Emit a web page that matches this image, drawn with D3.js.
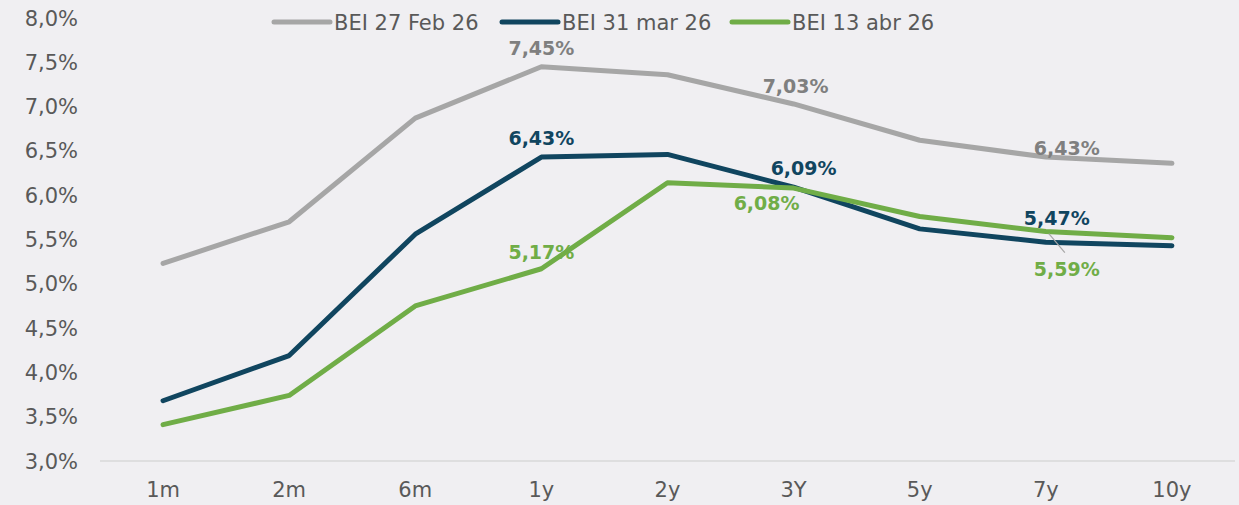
<!DOCTYPE html>
<html>
<head>
<meta charset="utf-8">
<script src="https://cdn.jsdelivr.net/npm/d3@7"></script>
<style>
  html, body { margin: 0; padding: 0; background: #f0eff2; }
  svg { display: block; }
  text { font-family: "DejaVu Sans", sans-serif; }
</style>
</head>
<body>
<svg id="chart" width="1239" height="505"></svg>
<script>
// tenors
var tenors = ["1m", "2m", "6m", "1y", "2y", "3Y", "5y", "7y", "10y"];
var yTicks = [3.0, 3.5, 4.0, 4.5, 5.0, 5.5, 6.0, 6.5, 7.0, 7.5, 8.0];

var seriesNames = ["BEI 27 Feb 26", "BEI 31 mar 26", "BEI 13 abr 26"];
var feb27 = [5.23, 5.70, 6.87, 7.45, 7.36, 7.03, 6.62, 6.43, 6.36];
var mar31 = [3.68, 4.19, 5.56, 6.43, 6.46, 6.09, 5.62, 5.47, 5.43];
var abr13 = [3.41, 3.74, 4.75, 5.17, 6.14, 6.08, 5.76, 5.59, 5.52];

// which points get a value label: [series index, tenor index]
var labelled = [[0, 3], [0, 5], [0, 7], [1, 3], [1, 5], [1, 7], [2, 3], [2, 5], [2, 7]];

var colors = ["#a6a6a6", "#10455f", "#70ad47"];
var labelColors = ["#7f7f7f", "#10455f", "#70ad47"];
// label offsets from the point (dx, dy) in px
var labelOffsets = {
  "0,3": [0, -12], "0,5": [2, -11], "0,7": [21, -2],
  "1,3": [0, -12], "1,5": [10, -12], "1,7": [11, -17],
  "2,3": [0, -10], "2,5": [-27, 22], "2,7": [21, 44]
};

var all = [feb27, mar31, abr13];

var svg = d3.select("#chart");
var mLeft = 100, mRight = 1235, mTop = 18, mBottom = 461;

var x = d3.scaleBand().domain(tenors).range([mLeft, mRight]);
var y = d3.scaleLinear().domain([3, 8]).range([mBottom, mTop]);
var fmt = function (v, d) { return v.toFixed(d).replace(".", ","); };

// y axis labels
svg.append("g").selectAll("text").data(yTicks).enter().append("text")
  .attr("x", 78).attr("y", function (d) { return y(d); })
  .attr("dy", "0.36em").attr("text-anchor", "end")
  .attr("fill", "#595959").style("font-size", "21px")
  .text(function (d) { return fmt(d, 1) + "%"; });

// baseline
svg.append("line").attr("x1", mLeft).attr("x2", mRight)
  .attr("y1", mBottom).attr("y2", mBottom)
  .attr("stroke", "#d9d9d9").attr("stroke-width", 1.5);

// x labels
svg.append("g").selectAll("text").data(tenors).enter().append("text")
  .attr("x", function (d) { return x(d) + x.bandwidth() / 2; })
  .attr("y", 497).attr("text-anchor", "middle")
  .attr("fill", "#595959").style("font-size", "21px")
  .text(function (d) { return d; });

var line = d3.line()
  .x(function (d, i) { return x(tenors[i]) + x.bandwidth() / 2; })
  .y(function (d) { return y(d); });

all.forEach(function (s, k) {
  svg.append("path").datum(s)
    .attr("d", line).attr("fill", "none")
    .attr("stroke", colors[k]).attr("stroke-width", 5)
    .attr("stroke-linejoin", "round").attr("stroke-linecap", "round");
});

// leader line for 5,59%
var lx = x("7y") + x.bandwidth() / 2;
svg.append("line")
  .attr("x1", lx + 3).attr("y1", y(abr13[7]) + 2)
  .attr("x2", lx + 19).attr("y2", y(abr13[7]) + 21)
  .attr("stroke", "#a6a6a6").attr("stroke-width", 1.2);

// value labels
labelled.forEach(function (p) {
  var s = p[0], i = p[1];
  var off = labelOffsets[s + "," + i];
  svg.append("text")
    .attr("x", x(tenors[i]) + x.bandwidth() / 2 + off[0])
    .attr("y", y(all[s][i]) + off[1])
    .attr("text-anchor", "middle")
    .attr("fill", labelColors[s])
    .style("font-size", "19px").style("font-weight", "bold")
    .text(fmt(all[s][i], 2) + "%");
});

// legend
var legendX = [274, 502, 732];
seriesNames.forEach(function (n, k) {
  svg.append("line").attr("x1", legendX[k]).attr("x2", legendX[k] + 56)
    .attr("y1", 22).attr("y2", 22)
    .attr("stroke", colors[k]).attr("stroke-width", 5).attr("stroke-linecap", "round");
  svg.append("text").attr("x", legendX[k] + 60).attr("y", 22).attr("dy", "0.36em")
    .attr("fill", "#595959").style("font-size", "21px").text(n);
});
</script>
</body>
</html>
